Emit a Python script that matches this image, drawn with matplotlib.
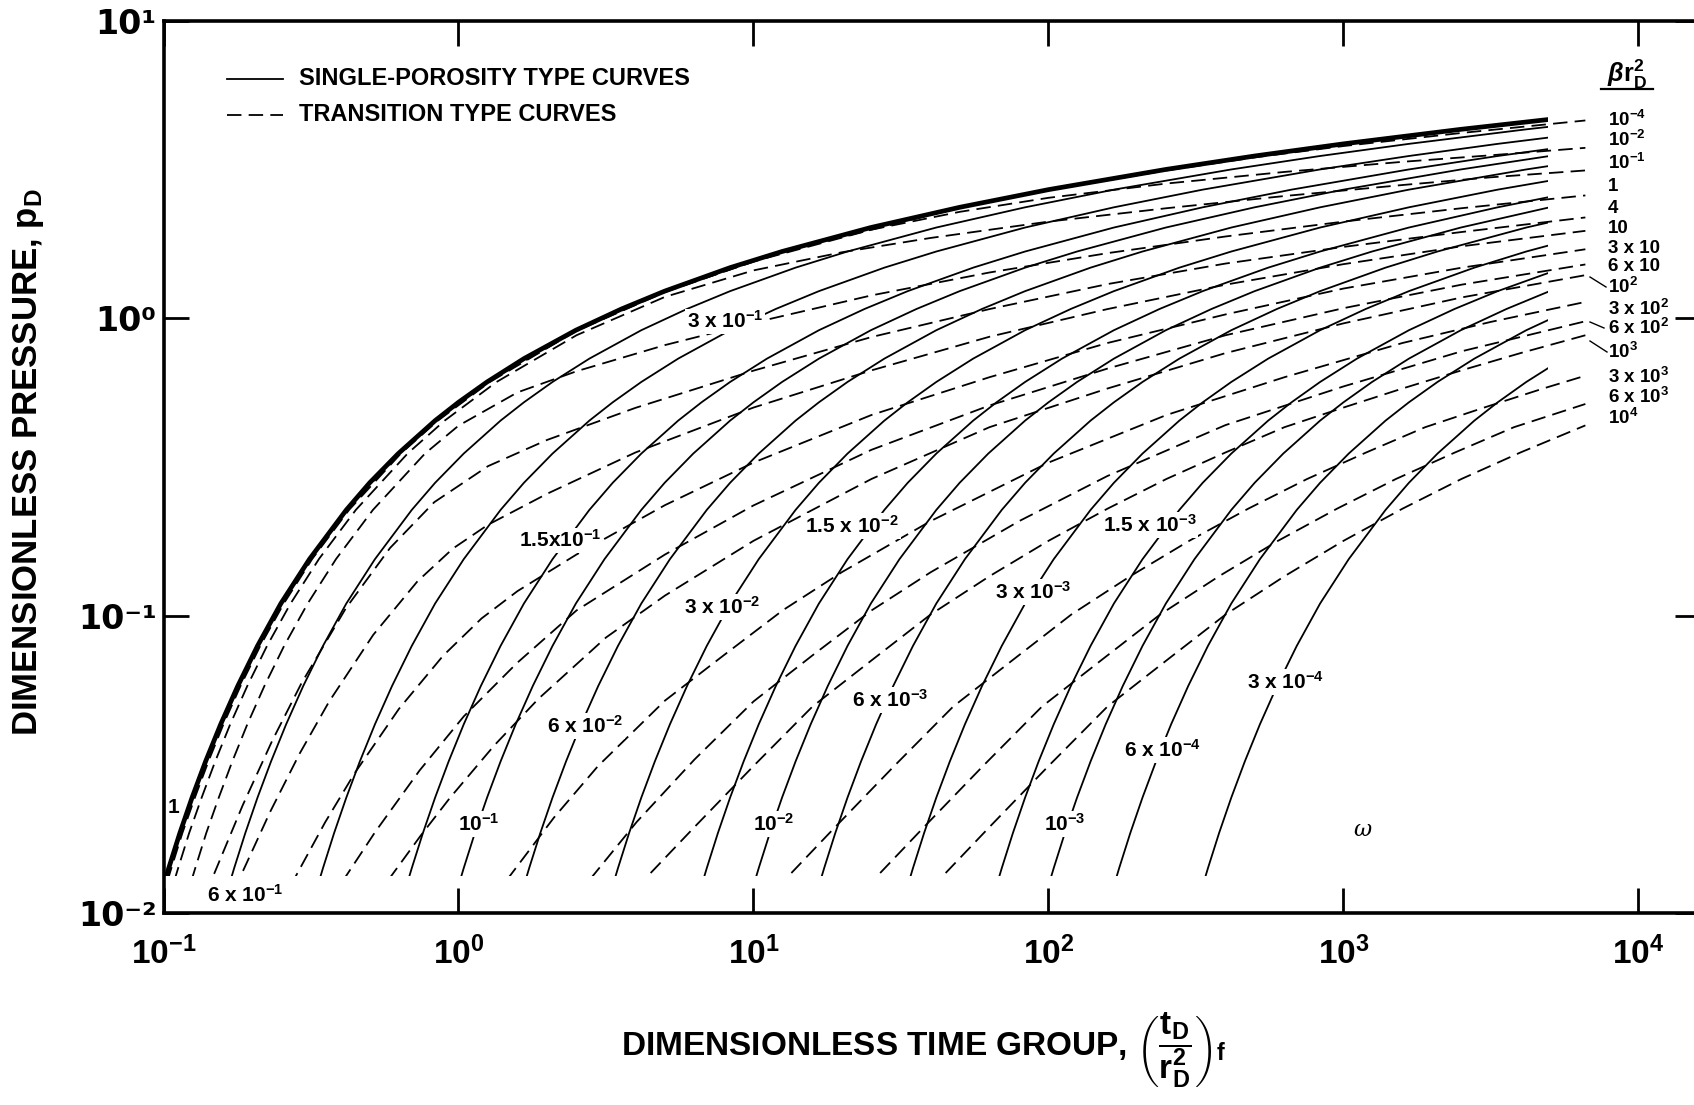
import numpy as np
import matplotlib
matplotlib.use("Agg")
import matplotlib.pyplot as plt
from matplotlib.patches import Rectangle

plt.rcParams['font.family'] = ['Liberation Sans', 'DejaVu Sans']
plt.rcParams['font.weight'] = 'bold'
plt.rcParams['mathtext.fontset'] = 'custom'
plt.rcParams['mathtext.rm'] = 'Liberation Sans:bold'
plt.rcParams['mathtext.bf'] = 'Liberation Sans:bold'
plt.rcParams['mathtext.it'] = 'Liberation Sans:bold:italic'
NARROW = ['Liberation Sans Narrow', 'Liberation Sans', 'DejaVu Sans']

# ---- single-porosity type curves ------------------------------------------
omega = [1, 6e-1, 3e-1, 1.5e-1, 1e-1, 6e-2, 3e-2, 1.5e-2, 1e-2,
         6e-3, 3e-3, 1.5e-3, 1e-3, 6e-4, 3e-4]
omega_labels = ['1', '6 x 10$^{-1}$', '3 x 10$^{-1}$', '1.5x10$^{-1}$', '10$^{-1}$',
                '6 x 10$^{-2}$', '3 x 10$^{-2}$', '1.5 x 10$^{-2}$', '10$^{-2}$',
                '6 x 10$^{-3}$', '3 x 10$^{-3}$', '1.5 x 10$^{-3}$', '10$^{-3}$',
                '6 x 10$^{-4}$', '3 x 10$^{-4}$']

# omega = 1 curve; the other omegas are the same curve at t/omega
tau = [0.0962, 0.1042, 0.1136, 0.125, 0.1389, 0.1563, 0.1786, 0.2083, 0.25, 0.3125,
       0.4167, 0.5, 0.625, 0.8333, 1.0, 1.25, 1.667, 2.5, 3.571, 5.0, 8.333, 12.5,
       25, 50, 100, 250, 500, 1000, 2500, 5000]
pd_single = [0.0109, 0.0142, 0.0186, 0.0245, 0.0324, 0.0432, 0.0581, 0.0792, 0.110, 0.155,
             0.227, 0.280, 0.351, 0.453, 0.522, 0.611, 0.732, 0.912, 1.075, 1.234, 1.480, 1.677,
             2.019, 2.361, 2.707, 3.165, 3.512, 3.858, 4.317, 4.663]

# ---- transition type curves (log10 of time group, log10 of pD) --------------
tr_1em4 = ([-1.013, -0.978, -0.941, -0.899, -0.853, -0.802, -0.744, -0.677, -0.598, -0.501, -0.376, -0.2,
            -0.075, 0.1, 0.4, 0.7, 1.1, 1.7, 2.0, 2.4, 2.7, 3.0, 3.4, 3.82],
           [-1.961, -1.847, -1.730, -1.612, -1.490, -1.365, -1.236, -1.101, -0.960, -0.809, -0.644, -0.454,
            -0.344, -0.214, -0.041, 0.090, 0.224, 0.372, 0.431, 0.497, 0.541, 0.579, 0.623, 0.665])
tr_1em2 = ([-1.008, -0.973, -0.936, -0.894, -0.848, -0.797, -0.739, -0.672, -0.593, -0.496, -0.371, -0.195,
            -0.07, 0.106, 0.4, 0.7, 1.0, 1.4, 1.7, 2.0, 2.4, 2.8, 3.2, 3.5, 3.82],
           [-1.961, -1.847, -1.730, -1.612, -1.490, -1.365, -1.236, -1.101, -0.960, -0.809, -0.644, -0.454,
            -0.344, -0.214, -0.042, 0.088, 0.191, 0.298, 0.358, 0.405, 0.453, 0.492, 0.526, 0.548, 0.573])
tr_1em1 = ([-0.985, -0.950, -0.913, -0.871, -0.825, -0.774, -0.716, -0.649, -0.570, -0.473, -0.348, -0.172,
            -0.047, 0.129, 0.4, 0.7, 1.0, 1.3, 1.6, 2.0, 2.4, 2.8, 3.2, 3.5, 3.82],
           [-1.961, -1.847, -1.730, -1.612, -1.490, -1.365, -1.236, -1.101, -0.960, -0.809, -0.644, -0.454,
            -0.344, -0.214, -0.057, 0.072, 0.161, 0.222, 0.270, 0.325, 0.370, 0.411, 0.448, 0.474, 0.497])
tr_1 = ([-0.927, -0.892, -0.855, -0.813, -0.767, -0.716, -0.658, -0.591, -0.512, -0.415, -0.29, -0.114,
         0.0, 0.2, 0.4, 0.7, 1.0, 1.4, 1.8, 2.2, 2.6, 3.0, 3.4, 3.82],
        [-1.961, -1.847, -1.730, -1.612, -1.490, -1.365, -1.236, -1.101, -0.960, -0.809, -0.644, -0.455,
         -0.361, -0.249, -0.178, -0.090, -0.015, 0.077, 0.154, 0.219, 0.275, 0.325, 0.370, 0.413])
tr_4 = ([-0.882, -0.832, -0.732, -0.632, -0.532, -0.382, -0.232, -0.082, 0.1, 0.3, 0.6, 1.0,
         1.4, 1.8, 2.2, 2.6, 3.0, 3.4, 3.82],
        [-2.003, -1.876, -1.638, -1.421, -1.226, -0.975, -0.772, -0.618, -0.497, -0.409, -0.301, -0.176,
         -0.063, 0.031, 0.115, 0.184, 0.240, 0.290, 0.339])
tr_10 = ([-0.789, -0.739, -0.639, -0.539, -0.439, -0.289, -0.139, -0.019, 0.1, 0.3, 0.6, 1.0,
          1.4, 1.8, 2.2, 2.6, 3.0, 3.4, 3.82],
         [-1.991, -1.876, -1.660, -1.464, -1.289, -1.064, -0.884, -0.774, -0.694, -0.590, -0.451, -0.300,
          -0.175, -0.062, 0.031, 0.113, 0.182, 0.242, 0.294])
tr_30 = ([-0.602, -0.552, -0.452, -0.352, -0.202, -0.052, 0.078, 0.2, 0.4, 0.7, 1.0, 1.4,
          1.8, 2.2, 2.6, 3.0, 3.4, 3.82],
         [-1.973, -1.876, -1.694, -1.529, -1.313, -1.134, -1.009, -0.917, -0.794, -0.628, -0.485, -0.325,
          -0.198, -0.083, 0.013, 0.100, 0.170, 0.232])
tr_60 = ([-0.432, -0.382, -0.282, -0.132, 0.018, 0.198, 0.4, 0.7, 1.0, 1.4, 1.8, 2.2,
          2.6, 3.0, 3.4, 3.82],
         [-1.955, -1.876, -1.726, -1.520, -1.338, -1.159, -0.982, -0.794, -0.629, -0.442, -0.293, -0.169,
          -0.057, 0.034, 0.113, 0.181])
tr_100 = ([-0.279, -0.229, -0.129, -0.029, 0.121, 0.271, 0.5, 0.7, 1.0, 1.4, 1.8, 2.2,
           2.6, 3.0, 3.4, 3.82],
          [-1.947, -1.876, -1.740, -1.612, -1.436, -1.279, -1.073, -0.932, -0.748, -0.540, -0.366, -0.236,
           -0.117, -0.017, 0.070, 0.145])
tr_300 = ([0.123, 0.173, 0.323, 0.473, 0.7, 0.9, 1.1, 1.3, 1.6, 2.0, 2.4, 2.8, 3.2, 3.5, 3.82],
          [-1.947, -1.876, -1.679, -1.505, -1.285, -1.132, -0.981, -0.853, -0.682, -0.485, -0.325,
           -0.198, -0.083, -0.012, 0.055])
tr_600 = ([0.404, 0.454, 0.604, 0.8, 1.0, 1.2, 1.4, 1.6, 1.9, 2.2, 2.6, 3.0, 3.4, 3.82],
          [-1.942, -1.876, -1.693, -1.483, -1.288, -1.133, -0.982, -0.854, -0.682, -0.530, -0.359,
           -0.229, -0.111, -0.010])
tr_1000 = ([0.55, 0.8, 1.0, 1.2, 1.4, 1.6, 1.8, 2.0, 2.2, 2.4, 2.6, 2.8, 3.0, 3.2, 3.4, 3.6, 3.82],
           [-1.97, -1.71, -1.505, -1.305, -1.15, -0.996, -0.867, -0.748, -0.640, -0.540, -0.451, -0.366,
            -0.300, -0.236, -0.175, -0.117, -0.057])
tr_3000 = ([1.027, 1.277, 1.477, 1.677, 1.877, 2.077, 2.277, 2.477, 2.677, 2.877, 3.077, 3.277, 3.477,
            3.677, 3.82],
           [-1.97, -1.71, -1.505, -1.305, -1.15, -0.996, -0.867, -0.748, -0.640, -0.540, -0.451, -0.366,
            -0.300, -0.236, -0.193])
tr_6000 = ([1.328, 1.578, 1.778, 1.978, 2.178, 2.378, 2.578, 2.778, 2.978, 3.178, 3.378, 3.578, 3.82],
           [-1.97, -1.71, -1.505, -1.305, -1.15, -0.996, -0.867, -0.748, -0.640, -0.540, -0.451, -0.366,
            -0.288])
tr_1e4 = ([1.55, 1.8, 2.0, 2.2, 2.4, 2.6, 2.8, 3.0, 3.2, 3.4, 3.6, 3.82],
          [-1.97, -1.71, -1.505, -1.305, -1.15, -0.996, -0.867, -0.748, -0.640, -0.540, -0.451, -0.360])

transition = [tr_1em4, tr_1em2, tr_1em1, tr_1, tr_4, tr_10, tr_30, tr_60, tr_100,
              tr_300, tr_600, tr_1000, tr_3000, tr_6000, tr_1e4]
beta_labels = ['10$^{-4}$', '10$^{-2}$', '10$^{-1}$', '1', '4', '10', '3 x 10', '6 x 10',
               '10$^{2}$', '3 x 10$^{2}$', '6 x 10$^{2}$', '10$^{3}$', '3 x 10$^{3}$',
               '6 x 10$^{3}$', '10$^{4}$']

xticks = [1e-1, 1e0, 1e1, 1e2, 1e3, 1e4]
xtick_labels = ['10$^{-1}$', '10$^{0}$', '10$^{1}$', '10$^{2}$', '10$^{3}$', '10$^{4}$']
yticks = [1e-2, 1e-1, 1e0, 1e1]
ytick_labels = ['10\u207b\u00b2', '10\u207b\u00b9', '10\u2070', '10\u00b9']

# ---- figure -----------------------------------------------------------------
W, H = 1694, 1105
fig = plt.figure(figsize=(W / 100, H / 100), dpi=100)
ax = fig.add_axes([163.5 / W, 1 - 913.3 / H, (1700 - 163.5) / W, (913.3 - 20.8) / H])
ax.set_xscale('log')
ax.set_yscale('log')
ax.set_xlim(0.1, 16165)
ax.set_ylim(0.01, 10)


def box(xmax):
    return Rectangle((0.01, 0.01333), xmax - 0.01, 100, transform=ax.transData)


DASH = (0, (8, 4))
for w in omega:
    lw = 3.4 if w == 1 else 1.3
    ln, = ax.plot(np.array(tau) / w, pd_single, color='black', lw=lw, solid_capstyle='butt')
    ln.set_clip_path(box(4930))

for lx, lp in transition:
    ln, = ax.plot(10 ** np.array(lx), 10 ** np.array(lp), color='black', lw=1.3, ls=DASH)
    ln.set_clip_path(box(6670))

# axes styling
for s in ax.spines.values():
    s.set_linewidth(2.6)
ax.set_xticks(xticks)
ax.set_xticklabels(xtick_labels, fontsize=24, family=NARROW)
ax.set_yticks(yticks)
ax.set_yticklabels(ytick_labels, fontsize=24, family='DejaVu Sans')
ax.minorticks_off()
ax.tick_params(which='major', direction='in', length=18, width=2, top=True, right=True)
ax.tick_params(axis='x', pad=17)
ax.tick_params(axis='y', pad=5)

# omega labels on the curves (axes fractions)
omega_pos = [(0.0062, 0.118), (0.053, 0.0206), (0.3654, 0.6633), (0.258, 0.418), (0.2053, 0.100),
             (0.2743, 0.2099), (0.3635, 0.3432), (0.4481, 0.4339), (0.3973, 0.100), (0.4728, 0.239),
             (0.5659, 0.360), (0.642, 0.4351), (0.5867, 0.100), (0.6499, 0.183), (0.7299, 0.2592)]
for i, (lab, (fx, fy)) in enumerate(zip(omega_labels, omega_pos)):
    bb = None if i < 2 else dict(boxstyle='square,pad=0.08', fc='white', ec='none')
    ax.text(fx, fy, lab, transform=ax.transAxes, ha='center', va='center', fontsize=15, bbox=bb)
ax.text(0.7806, 0.0933, 'ω', transform=ax.transAxes, ha='center', va='center',
        fontsize=16, family='DejaVu Serif', style='italic', weight='normal')

# beta r_D^2 labels at right
beta_y = [0.8889, 0.8665, 0.8410, 0.8141, 0.7899, 0.7675, 0.7451, 0.7245, 0.7021,
          0.6768, 0.6555, 0.6292, 0.6012, 0.5788, 0.5546]
for lab, fy in zip(beta_labels, beta_y):
    ax.text(0.940, fy, lab, transform=ax.transAxes, ha='left', va='center', fontsize=13.5)
ax.text(0.9525, 0.9400, r'$\beta$r$_{\mathrm{D}}^{2}$', transform=ax.transAxes,
        ha='center', va='center', fontsize=18)
ax.plot([0.9356, 0.9694], [0.9236, 0.9236], transform=ax.transAxes, color='black', lw=1.6,
        clip_on=False)
for (x0, y0), (x1, y1) in [((1590, 277), (1606, 287)), ((1590, 322), (1604, 328)),
                           ((1590, 341), (1607, 352))]:
    fig.add_artist(plt.Line2D([x0 / W, x1 / W], [1 - y0 / H, 1 - y1 / H], color='black', lw=1.0))

# legend
ax.plot([0.0413, 0.0778], [0.9349, 0.9349], transform=ax.transAxes, color='black', lw=1.3)
ax.plot([0.0413, 0.0778], [0.8950, 0.8950], transform=ax.transAxes, color='black', lw=1.3, ls=DASH)
ax.text(0.0882, 0.9349, 'SINGLE-POROSITY TYPE CURVES', transform=ax.transAxes,
        ha='left', va='center', fontsize=17)
ax.text(0.0882, 0.8950, 'TRANSITION TYPE CURVES', transform=ax.transAxes,
        ha='left', va='center', fontsize=17)

# axis titles
fig.text(29 / W, 1 - 462 / H, 'DIMENSIONLESS PRESSURE, p$_{\\mathrm{D}}$', rotation=90,
         ha='center', va='center', fontsize=25, family=NARROW)
fig.text(924 / W, 1 - 1050 / H,
         'DIMENSIONLESS TIME GROUP, $\\left(\\dfrac{\\mathrm{t_D}}{\\mathrm{r_D^2}}\\right)_{\\mathrm{f}}$',
         ha='center', va='center', fontsize=24, family=NARROW)

fig.savefig('out.png', dpi=100)
